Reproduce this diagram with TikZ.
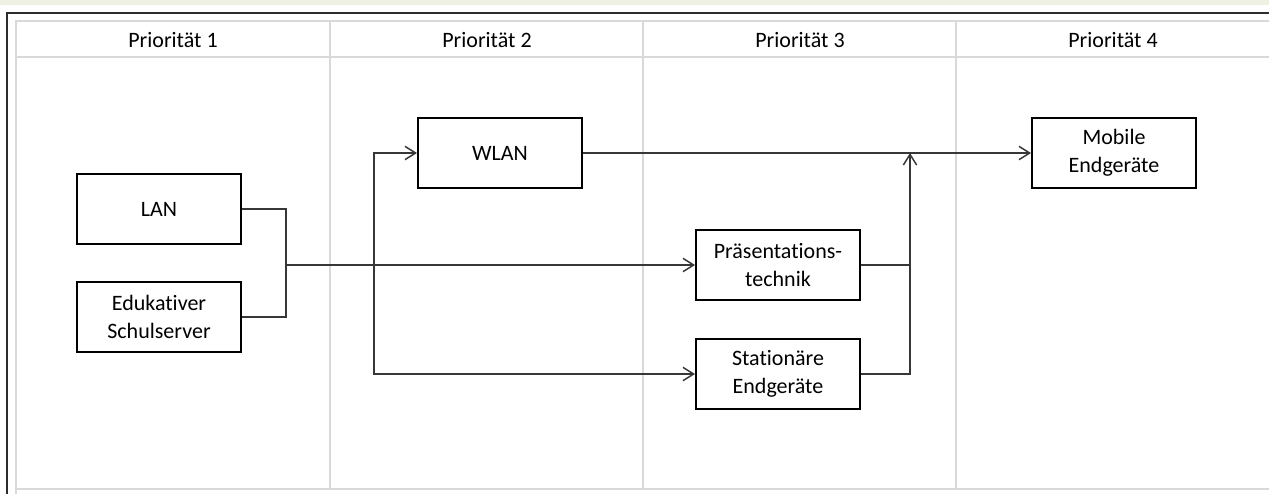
\documentclass[tikz,border=0pt]{standalone}
\usepackage{fontspec}
\setmainfont{Carlito}[Ligatures={NoCommon}]
\usetikzlibrary{arrows.meta,calc}
\definecolor{strip}{RGB}{238,240,226}
\definecolor{framec}{RGB}{45,45,45}
\definecolor{gridc}{RGB}{217,217,217}
\definecolor{linec}{RGB}{55,55,55}
\begin{document}
\begin{tikzpicture}[x=0.75pt,y=-0.75pt,
  every node/.style={font=\fontsize{16.5}{21}\selectfont},
  boxnode/.style={draw=black,line width=1.5pt,minimum width=123pt,minimum height=52pt,inner sep=0pt,align=center},
  conn/.style={draw=linec,line width=1.2pt},
  arr/.style={conn,-{Straight Barb[length=8pt,width=10pt,line width=1.1pt]}},
  grid/.style={draw=gridc,line width=1pt},
  header/.style={anchor=center}]
\useasboundingbox (0,0) rectangle (1269,493);
\fill[white] (0,0) rectangle (1269,493);
\fill[strip] (0,0) rectangle (1269,5);
% outer frame
\draw[framec,line width=1.6pt] (7,495) -- (7,13) -- (1271,13);
% table grid
\draw[grid] (16,495) -- (16,21) -- (1271,21);
\draw[grid] (16,57) -- (1271,57);
\draw[grid] (16,489) -- (1271,489);
\draw[grid] (330,21) -- (330,489);
\draw[grid] (643,21) -- (643,489);
\draw[grid] (956,21) -- (956,489);
% headers
\node[header] (h1) at (173,40) {Priorität 1};
\node[header] (h2) at (487,40) {Priorität 2};
\node[header] (h3) at (800,40) {Priorität 3};
\node[header] (h4) at (1113,40) {Priorität 4};
% boxes
\node[boxnode] (lan) at (159,209) {LAN};
\node[boxnode] (srv) at (159,317) {Edukativer\\Schulserver};
\node[boxnode] (wlan) at (500,153) {WLAN};
\node[boxnode] (praes) at (778,265) {Präsentations-\\technik};
\node[boxnode] (stat) at (778,374) {Stationäre\\Endgeräte};
\node[boxnode] (mob) at (1114,153) {Mobile\\Endgeräte};
% junction coordinates
\coordinate (jl) at (286,265);
\coordinate (jv) at (374,265);
\coordinate (jr) at (910,153);
% connectors
\draw[conn] (lan.east) -| (jl);
\draw[conn] (srv.east) -| (jl);
\draw[arr] (jl) -- (praes.west);
\draw[arr] (jv) |- (wlan.west);
\draw[arr] (jv) |- (stat.west);
\draw[arr] (wlan.east) -- (mob.west);
\draw[conn] (praes.east) -- (praes.east -| jr);
\draw[arr] (stat.east) -| (jr);
\end{tikzpicture}
\end{document}
